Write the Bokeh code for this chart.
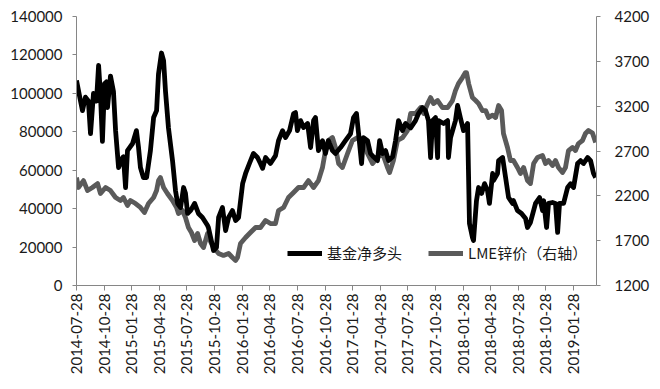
from bokeh.plotting import figure
from bokeh.models import Range1d, LinearAxis, FixedTicker, NumeralTickFormatter, Legend, LegendItem
from bokeh.embed import file_html
from bokeh.resources import INLINE
from math import pi

# x labels (category axis, one label every 13 weekly points)
tick_labels = ["2014-07-28", "2014-10-28", "2015-01-28", "2015-04-28", "2015-07-28",
               "2015-10-28", "2016-01-28", "2016-04-28", "2016-07-28", "2016-10-28",
               "2017-01-28", "2017-04-28", "2017-07-28", "2017-10-28", "2018-01-28",
               "2018-04-28", "2018-07-28", "2018-10-28", "2019-01-28"]
label_step = 13
n_weeks = 244.8

# 基金净多头 (left axis): week index, value
net_week = [0, 1.9, 2.8, 4.2, 5.6, 6.6, 8.0, 9.4, 10.4, 11.3, 12.2, 13.2, 14.1, 14.6, 16.0,
            17.4, 18.4, 19.8, 21.7, 22.1, 23.1, 24.0, 26.4, 28.2, 29.2, 30.1, 31.5, 33.0,
            34.8, 36.3, 37.7, 38.6, 40.0, 41.0, 41.9, 43.3, 45.2, 46.6, 47.6, 49.0, 50.4,
            51.3, 52.3, 53.7, 55.6, 57.4, 59.3, 61.7, 62.1, 64.5, 65.9, 66.9, 68.7, 70.2,
            71.6, 73.4, 74.9, 76.3, 78.2, 79.6, 81.4, 83.3, 85.2, 86.6, 87.6, 89.0, 91.3,
            93.7, 95.1, 97.0, 98.4, 100.3, 102.2, 103.1, 104.0, 105.5, 106.9, 108.8, 110.2,
            111.6, 112.5, 113.9, 115.8, 117.2, 118.6, 120.5, 121.9, 124.3, 126.6, 129.0,
            130.4, 131.8, 132.8, 134.2, 135.1, 137.0, 138.4, 139.8, 141.7, 142.7, 144.1,
            145.5, 146.9, 148.8, 150.2, 151.6, 153.5, 154.9, 157.3, 159.6, 161.0, 162.9,
            164.3, 165.7, 166.7, 167.6, 169.0, 170.0, 170.4, 172.8, 174.7, 175.1, 176.1,
            178.4, 179.4, 180.8, 182.2, 184.1, 185.0, 186.4, 186.9, 188.3, 189.3, 190.7,
            192.1, 193.5, 194.4, 195.9, 196.3, 198.2, 198.7, 200.6, 202.0, 203.4, 205.3,
            205.7, 207.6, 209.5, 211.4, 212.3, 213.7, 216.1, 218.0, 219.4, 219.9, 221.3,
            222.2, 224.1, 225.5, 226.5, 227.4, 229.3, 231.2, 232.6, 234.0, 235.9, 237.3,
            238.7, 240.6, 242.0, 243.4, 244.4]
net_long = [106700, 96000, 91000, 98000, 96000, 79000, 100000, 96000, 114500, 99000, 75000,
            105000, 106000, 92600, 109000, 101000, 80600, 61400, 66600, 67000, 51000, 70200,
            73900, 80600, 71800, 61400, 56200, 56200, 70200, 87400, 91000, 110000, 121000,
            117000, 101000, 82000, 65000, 49400, 42700, 40600, 51000, 48000, 37500, 39000,
            42700, 37500, 35400, 31200, 30200, 18200, 19800, 35400, 40600, 28600, 35400,
            39000, 33800, 35400, 53000, 58300, 63500, 68700, 66600, 63500, 61000, 66600,
            63500, 67600, 75400, 80600, 77000, 80600, 89500, 90000, 80600, 85800, 82200,
            84300, 71800, 85800, 87400, 70200, 75400, 68700, 75400, 70200, 68700, 71800,
            75400, 79000, 87400, 89500, 79000, 63500, 77000, 75400, 68700, 67000, 65000,
            75400, 68700, 70200, 65000, 67000, 75400, 85800, 80600, 84300, 82000, 85800,
            89500, 92600, 91000, 85800, 66600, 85800, 87400, 66600, 85800, 84300, 85800,
            66600, 77000, 85800, 93700, 86900, 80600, 84300, 32300, 25000, 23400, 44200,
            51000, 47900, 53000, 49400, 42700, 58300, 54600, 58300, 65000, 66600, 56200,
            45800, 42700, 44200, 39000, 37500, 34900, 30200, 32800, 42700, 45800, 39000,
            44200, 30200, 42700, 43200, 42700, 27600, 42700, 42700, 51000, 53000, 51000,
            63500, 65000, 63500, 66600, 65000, 58300, 56200]

# LME锌价 (right axis): week index, value
zinc_week = [0, 0.9, 3.3, 5.2, 7.5, 9.9, 11.3, 13.7, 16.0, 18.4, 20.7, 22.1, 24.0, 25.4,
             27.8, 30.1, 32.0, 33.9, 36.3, 37.7, 38.6, 39.5, 41.0, 42.8, 45.2, 47.1, 48.0,
             49.9, 51.3, 52.7, 54.1, 55.6, 57.0, 58.4, 59.8, 61.7, 62.1, 64.5, 66.9, 69.2,
             71.6, 73.4, 74.9, 75.8, 77.2, 79.6, 81.9, 84.3, 86.6, 89.0, 91.3, 93.7, 95.1,
             97.5, 99.8, 102.2, 104.5, 106.9, 109.2, 111.6, 113.9, 115.8, 117.2, 118.6,
             120.5, 121.9, 123.4, 125.2, 127.6, 129.9, 132.3, 134.7, 137.0, 139.4, 141.7,
             144.1, 146.4, 147.4, 149.2, 151.1, 153.5, 155.8, 157.3, 159.6, 162.0, 163.4,
             165.3, 166.7, 168.1, 170.0, 172.3, 174.7, 177.0, 178.4, 179.8, 181.7, 183.1,
             183.6, 184.6, 186.4, 187.9, 189.3, 191.1, 192.6, 194.0, 195.9, 197.3, 198.7,
             200.1, 201.0, 202.9, 204.3, 205.7, 207.6, 209.0, 210.5, 212.3, 213.7, 215.2,
             217.0, 219.4, 220.8, 222.2, 224.1, 225.5, 226.9, 228.8, 230.2, 231.6, 233.5,
             234.9, 236.3, 238.2, 239.6, 241.0, 242.9, 244.4]
zinc_price = [2404, 2293, 2370, 2259, 2293, 2337, 2226, 2293, 2259, 2181, 2148, 2181, 2092,
              2148, 2114, 2070, 2014, 2114, 2181, 2259, 2370, 2404, 2293, 2226, 2148, 2070,
              2003, 2036, 1958, 1847, 1791, 1702, 1780, 1668, 1624, 1780, 1735, 1624, 1557,
              1535, 1557, 1512, 1479, 1512, 1668, 1735, 1791, 1847, 1847, 1925, 1891, 1891,
              2036, 2070, 2181, 2237, 2293, 2293, 2370, 2293, 2370, 2516, 2705, 2817, 2850,
              2739, 2560, 2516, 2672, 2817, 2850, 2817, 2672, 2560, 2627, 2672, 2516, 2460,
              2594, 2817, 2850, 2928, 3118, 3118, 3185, 3118, 3229, 3296, 3229, 3263, 3185,
              3185, 3263, 3374, 3452, 3519, 3575, 3575, 3452, 3296, 3263, 3229, 3151, 3151,
              3073, 3100, 3073, 3207, 3151, 2895, 2739, 2594, 2594, 2516, 2449, 2516, 2370,
              2337, 2560, 2627, 2649, 2560, 2594, 2538, 2594, 2516, 2460, 2516, 2705, 2739,
              2705, 2783, 2817, 2895, 2928, 2900, 2794]

left_ticks = [0, 20000, 40000, 60000, 80000, 100000, 120000, 140000]
right_ticks = [1200, 1700, 2200, 2700, 3200, 3700, 4200]

AXIS_COLOR = "#868686"
TEXT_COLOR = "#1a1a1a"
FONT = "Lato"

p = figure(width=652, height=381, output_backend="svg", toolbar_location=None,
           x_range=Range1d(0, n_weeks), y_range=Range1d(0, 140000),
           min_border_left=76, min_border_right=56, min_border_top=16, min_border_bottom=96)
p.outline_line_color = None
p.xgrid.visible = False
p.ygrid.visible = False
p.extra_y_ranges = {"right": Range1d(1200, 4200)}

# left axis
ya = p.yaxis[0]
ya.ticker = FixedTicker(ticks=left_ticks)
ya.formatter = NumeralTickFormatter(format="0")
ya.minor_tick_line_color = None
ya.major_tick_in = 0
ya.major_tick_out = 4
ya.major_label_standoff = 10

# bottom axis
xa = p.xaxis[0]
ticks = [i * label_step for i in range(len(tick_labels))]
xa.ticker = FixedTicker(ticks=ticks)
xa.major_label_overrides = {t: lab for t, lab in zip(ticks, tick_labels)}
xa.major_label_orientation = pi / 2
xa.minor_tick_line_color = None
xa.major_tick_in = 0
xa.major_tick_out = 5
xa.major_label_standoff = 3

# right axis
ra = LinearAxis(y_range_name="right", ticker=FixedTicker(ticks=right_ticks))
ra.minor_tick_line_color = None
ra.major_tick_in = 0
ra.major_tick_out = 4
ra.major_label_standoff = 14
p.add_layout(ra, "right")

for ax in [ya, xa, ra]:
    ax.axis_line_color = AXIS_COLOR
    ax.major_tick_line_color = AXIS_COLOR
    ax.major_label_text_font = FONT
    ax.major_label_text_font_size = "15px"
    ax.major_label_text_color = TEXT_COLOR

r_zinc = p.line(zinc_week, zinc_price, y_range_name="right", line_color="#5a5a5a",
                line_width=4.8, line_join="round")
r_net = p.line(net_week, net_long, line_color="#000000", line_width=4.8, line_join="round")

legend = Legend(items=[LegendItem(label="基金净多头", renderers=[r_net]),
                       LegendItem(label="LME锌价（右轴）", renderers=[r_zinc])],
                orientation="horizontal", location=(211, 22),
                label_text_font="Noto Sans CJK SC", label_text_font_size="15px",
                label_text_color=TEXT_COLOR, glyph_width=35, glyph_height=20,
                label_standoff=5, spacing=26, padding=0, margin=0,
                background_fill_alpha=0, border_line_alpha=0)
p.add_layout(legend)

open("out.html", "w").write(file_html(p, INLINE))
